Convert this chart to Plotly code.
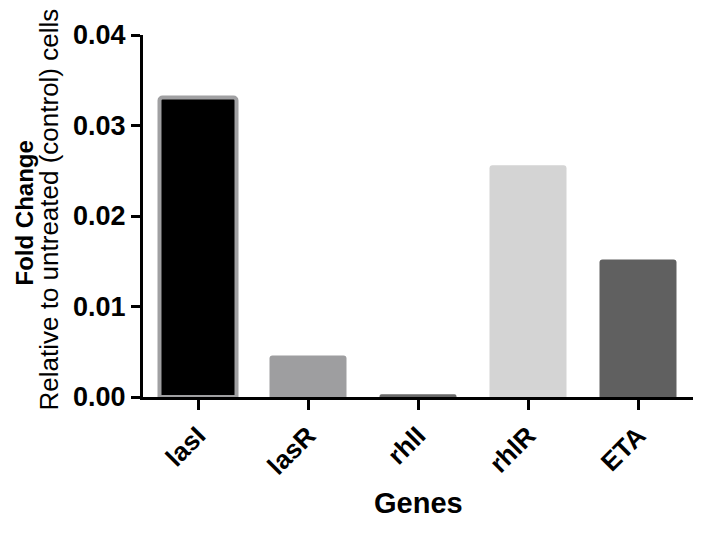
import plotly.graph_objects as go

genes = ["lasI", "lasR", "rhlI", "rhlR", "ETA"]
fold_change = [0.0331, 0.00458, 0.0003, 0.0256, 0.0152]
fill_colors = ["#000000", "#9e9ea0", "#6a6a6a", "#d4d4d4", "#606060"]
line_colors = ["#a0a0a2", "#9e9ea0", "#6a6a6a", "#d4d4d4", "#606060"]
line_widths = [4, 0, 0, 0, 0]
y_ticks = [0.0, 0.01, 0.02, 0.03, 0.04]
y_tick_labels = ["0.00", "0.01", "0.02", "0.03", "0.04"]

fig = go.Figure()
fig.add_trace(go.Bar(
    x=genes, y=fold_change, width=0.7,
    marker=dict(color=fill_colors, line=dict(color=line_colors, width=line_widths)),
    showlegend=False,
))

font = "Liberation Sans, Arial, sans-serif"
fig.update_layout(
    width=697, height=531,
    margin=dict(l=135, r=12, t=22, b=142),
    paper_bgcolor="white", plot_bgcolor="white",
    barcornerradius=3,
    font=dict(family=font, color="black"),
    xaxis=dict(
        showline=True, linecolor="black", linewidth=3,
        ticks="outside", ticklen=10, tickwidth=3, tickcolor="black",
        tickangle=-45, tickfont=dict(size=26, family=font, weight="bold"),
        showgrid=False, zeroline=False,
    ),
    yaxis=dict(
        range=[0, 0.04], tickvals=y_ticks, ticktext=y_tick_labels,
        showline=True, linecolor="black", linewidth=3,
        ticks="outside", ticklen=9, tickwidth=3, tickcolor="black",
        tickfont=dict(size=27, family=font, weight="bold"),
        showgrid=False, zeroline=False,
    ),
    annotations=[
        dict(text="<b>Fold Change</b>", xref="paper", yref="paper", x=0, y=0.507,
             xanchor="center", yanchor="middle", xshift=-119, textangle=-90,
             borderpad=0, showarrow=False, font=dict(size=24, family=font, color="black")),
        dict(text="Relative to untreated (control) cells", xref="paper", yref="paper", x=0, y=0.518,
             xanchor="center", yanchor="middle", xshift=-94, textangle=-90,
             borderpad=0, showarrow=False, font=dict(size=26, family=font, color="black")),
        dict(text="<b>Genes</b>", xref="paper", yref="paper", x=0.5, y=-0.294,
             xanchor="center", yanchor="middle",
             showarrow=False, font=dict(size=29, family=font, color="black")),
    ],
)

fig.write_html("out.html")
